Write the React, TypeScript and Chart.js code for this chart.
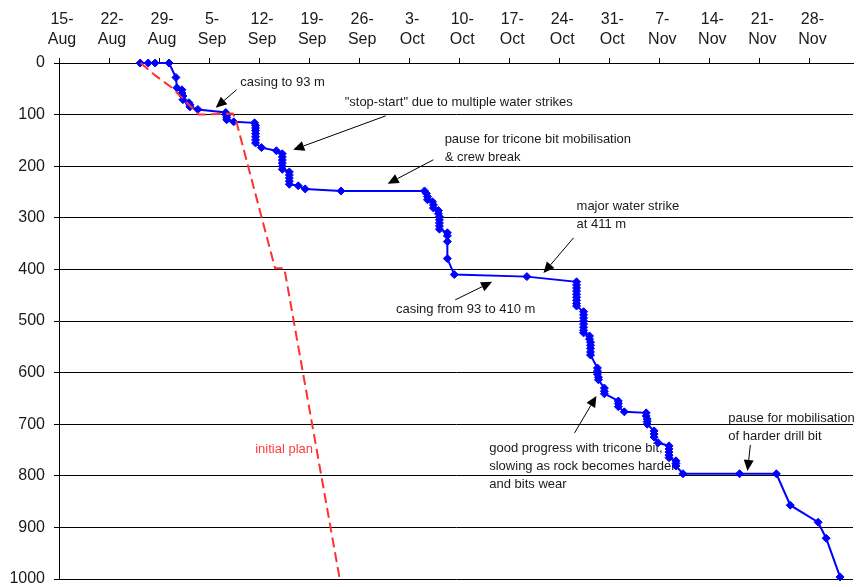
import React, { useEffect, useRef } from 'react';
import { Chart, registerables } from 'chart.js';

Chart.register(...registerables);

const FONT = '"Liberation Sans", Arial, sans-serif';

// x values are days counted from 15 August
const weekLabels = ['15-Aug', '22-Aug', '29-Aug', '5-Sep', '12-Sep', '19-Sep', '26-Sep', '3-Oct', '10-Oct', '17-Oct', '24-Oct', '31-Oct', '7-Nov', '14-Nov', '21-Nov', '28-Nov'];
const weekTickDays = [0, 7, 14, 21, 28, 35, 42, 49, 56, 63, 70, 77, 84, 91, 98, 105];
const depthTicks = [0, 100, 200, 300, 400, 500, 600, 700, 800, 900, 1000];

// actual drilling progress (blue)
const actualDays = [
  11.36, 12.48, 13.45, 15.39, 16.36, 16.5, 17.2, 17.2, 17.34, 17.34, 18.18, 18.32, 18.32, 19.43,
  23.33, 23.46, 23.46, 23.46, 24.44, 27.36, 27.5, 27.5, 27.5, 27.5, 27.5, 27.5, 27.5, 28.33, 30.42,
  31.25, 31.25, 31.25, 31.25, 31.25, 31.25, 32.23, 32.23, 32.23, 32.23, 32.23, 33.48, 34.45, 39.46,
  51.14, 51.42, 51.56, 51.56, 52.26, 52.39, 52.39, 53.09, 53.09, 53.23, 53.23, 53.23, 53.23, 53.23,
  54.34, 54.34, 54.34, 54.34, 55.31, 65.47,
  72.42, 72.42, 72.42, 72.42, 72.42, 72.42, 72.42, 72.42, 72.42,
  73.4, 73.4, 73.4, 73.4, 73.4, 73.4, 73.4, 73.4,
  74.23, 74.23, 74.37, 74.37, 74.37, 74.37, 74.37,
  75.34, 75.34, 75.34, 75.48, 75.48, 76.31, 76.31, 76.31, 78.26, 78.26, 78.26, 79.1,
  82.16, 82.16, 82.3, 82.3, 82.3, 83.27, 83.27, 83.27, 83.83,
  85.36, 85.36, 85.36, 85.36, 85.36, 86.33, 86.33, 86.33, 87.31,
  95.23, 100.38, 102.32, 106.22, 107.34, 109.29,
];
const actualDepths = [
  0, 0, 0, 0, 28, 48, 52, 58, 64, 71, 77, 81, 85, 90,
  96, 102, 106, 110, 114, 116, 121, 126, 131, 137, 143, 149, 155, 164, 170,
  176, 182, 188, 194, 200, 206, 211, 217, 223, 229, 235, 238, 244, 248,
  248, 253, 259, 265, 269, 275, 281, 286, 292, 298, 304, 310, 316, 322,
  329, 335, 346, 379, 410, 414,
  424, 430, 436, 442, 448, 454, 460, 466, 471,
  482, 488, 494, 500, 506, 512, 518, 523,
  529, 535, 541, 547, 553, 560, 566,
  591, 597, 603, 609, 614, 630, 636, 641, 655, 660, 666, 676,
  678, 684, 690, 695, 700, 713, 719, 725, 736,
  742, 748, 754, 760, 765, 771, 776, 781, 796,
  796, 796, 857, 890, 921, 996,
];

// initial plan (red dashed)
const planDays = [11.43, 13.55, 15.81, 19.57, 24.3, 24.71, 30.24, 31.53, 39.28];
const planDepths = [0, 25, 48, 100, 98, 108, 398, 398, 1000];

// annotations: text anchored at (day, depth) of first baseline
const notes = [
  { lines: ['casing to 93 m'], day: 25.37, depth: 44, color: '#1a1a1a' },
  { lines: ['"stop-start" due to multiple water strikes'], day: 39.97, depth: 82.8, color: '#1a1a1a' },
  { lines: ['pause for tricone bit mobilisation', '& crew break'], day: 53.96, depth: 155.1, color: '#1a1a1a' },
  { lines: ['major water strike', 'at 411 m'], day: 72.42, depth: 284.5, color: '#1a1a1a' },
  { lines: ['casing from 93 to 410 m'], day: 47.15, depth: 484.2, color: '#1a1a1a' },
  { lines: ['good progress with tricone bit,', 'slowing as rock becomes harder', 'and bits wear'], day: 60.2, depth: 753.8, color: '#1a1a1a' },
  { lines: ['pause for mobilisation', 'of harder drill bit'], day: 93.66, depth: 695.6, color: '#1a1a1a' },
  { lines: ['initial plan'], day: 27.45, depth: 755.6, color: '#ff3b3b' },
];
const arrows = [
  { from: [24.85, 51.8], to: [21.93, 86.6] },
  { from: [45.72, 102.4], to: [32.78, 168.1] },
  { from: [52.39, 187.5], to: [45.99, 234.0] },
  { from: [72.0, 338.8], to: [67.79, 407.2] },
  { from: [55.44, 459.0], to: [60.6, 424.1] },
  { from: [72.14, 716.9], to: [75.2, 645.2] },
  { from: [96.74, 740.2], to: [96.34, 790.6] },
];

const notesPlugin = {
  id: 'notes',
  beforeDatasetsDraw(chart: any) {
    const { ctx } = chart;
    const xs = chart.scales.x;
    const ys = chart.scales.y;
    ctx.save();
    ctx.font = `13px ${FONT}`;
    ctx.textAlign = 'left';
    ctx.textBaseline = 'alphabetic';
    for (const n of notes) {
      ctx.fillStyle = n.color;
      const px = xs.getPixelForValue(n.day);
      const py = ys.getPixelForValue(n.depth);
      n.lines.forEach((line: string, i: number) => ctx.fillText(line, px, py + i * 18));
    }
    ctx.strokeStyle = '#000';
    ctx.fillStyle = '#000';
    ctx.lineWidth = 1;
    for (const a of arrows) {
      const x1 = xs.getPixelForValue(a.from[0]);
      const y1 = ys.getPixelForValue(a.from[1]);
      const x2 = xs.getPixelForValue(a.to[0]);
      const y2 = ys.getPixelForValue(a.to[1]);
      const ang = Math.atan2(y2 - y1, x2 - x1);
      const L = 11;
      const W = 5;
      const bx = x2 - L * Math.cos(ang);
      const by = y2 - L * Math.sin(ang);
      ctx.beginPath();
      ctx.moveTo(x1, y1);
      ctx.lineTo(bx, by);
      ctx.stroke();
      ctx.beginPath();
      ctx.moveTo(x2, y2);
      ctx.lineTo(bx + W * Math.sin(ang), by - W * Math.cos(ang));
      ctx.lineTo(bx - W * Math.sin(ang), by + W * Math.cos(ang));
      ctx.closePath();
      ctx.fill();
    }
    ctx.restore();
  },
};

export default function App() {
  const ref = useRef<HTMLCanvasElement>(null);
  useEffect(() => {
    if (!ref.current) return;
    const chart = new Chart(ref.current, {
      type: 'scatter',
      data: {
        datasets: [
          {
            label: 'initial plan',
            data: planDays.map((d, i) => ({ x: d, y: planDepths[i] })),
            showLine: true,
            borderColor: '#ff3030',
            borderWidth: 2,
            borderDash: [10, 5],
            pointRadius: 0,
            order: 0,
            clip: false as any,
          },
          {
            label: 'actual',
            data: actualDays.map((d, i) => ({ x: d, y: actualDepths[i] })),
            showLine: true,
            borderColor: '#0000ff',
            backgroundColor: '#0000ff',
            borderWidth: 2,
            pointStyle: 'rectRot',
            pointRadius: 4,
            pointBorderWidth: 1,
            pointBackgroundColor: '#0000ff',
            pointBorderColor: '#0000ff',
            order: 1,
            clip: false as any,
          },
        ],
      },
      options: {
        animation: false,
        responsive: false,
        devicePixelRatio: 1,
        layout: { padding: { top: 0, left: 0, right: 0, bottom: 8 } },
        plugins: { legend: { display: false }, tooltip: { enabled: false } },
        scales: {
          x: {
            type: 'linear',
            position: 'top',
            min: 0,
            max: 111.1,
            afterBuildTicks: (s: any) => {
              s.ticks = weekTickDays.map((v) => ({ value: v }));
            },
            afterFit: (s: any) => {
              s.height = 63;
              s.paddingLeft = 0;
              s.paddingRight = 0;
            },
            grid: { drawOnChartArea: false, drawTicks: true, tickLength: 5, color: '#000' },
            border: { display: true, color: '#000', width: 1 },
            ticks: {
              autoSkip: false,
              maxRotation: 0,
              minRotation: 0,
              padding: 9,
              labelOffset: 3,
              color: '#1a1a1a',
              font: { family: FONT, size: 16, lineHeight: 1.22 },
              callback: (_v: any, i: number) => {
                const t = weekLabels[i] || '';
                const k = t.indexOf('-');
                return [t.slice(0, k + 1), t.slice(k + 1)];
              },
            },
          },
          y: {
            type: 'linear',
            reverse: true,
            min: 0,
            max: 1000,
            afterBuildTicks: (s: any) => {
              s.ticks = depthTicks.map((v) => ({ value: v }));
            },
            afterFit: (s: any) => {
              s.width = 59;
              s.paddingTop = 0;
              s.paddingBottom = 0;
            },
            grid: { color: '#000', lineWidth: 1, drawTicks: true, tickLength: 5 },
            border: { display: true, color: '#000', width: 1 },
            ticks: {
              padding: 9,
              color: '#1a1a1a',
              font: { family: FONT, size: 16, lineHeight: 1 },
              callback: (v: any) => String(v),
            },
          },
        },
      },
      plugins: [notesPlugin],
    });
    return () => chart.destroy();
  }, []);
  return (
    <div style={{ position: 'fixed', left: 0, top: 0, width: 858, height: 587, background: '#fff' }}>
      <canvas ref={ref} width={858} height={587} style={{ display: 'block' }} />
    </div>
  );
}
